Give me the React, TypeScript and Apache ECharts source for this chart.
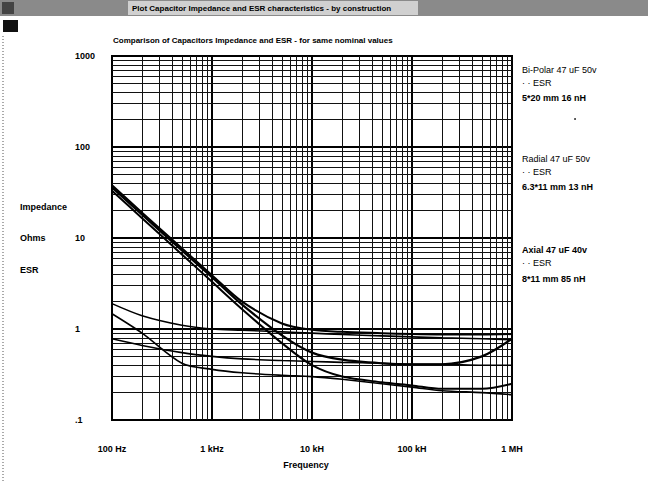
import React, { useEffect, useRef } from "react";
import * as echarts from "echarts";

// Frequencies (Hz) at which the curves were read
const freqs = [100, 200, 500, 1000, 2000, 5000, 10000, 20000, 50000, 100000, 200000, 500000, 1000000];

// Impedance and ESR (Ohms)
const zBipolar = [38, 19, 7.7, 3.9, 2.0, 1.15, 0.98, 0.93, 0.9, 0.88, 0.87, 0.87, 0.88];
const esrBipolar = [1.9, 1.4, 1.1, 1.0, 0.97, 0.93, 0.9, 0.87, 0.84, 0.82, 0.8, 0.78, 0.76];
const zRadial = [33, 16.5, 6.6, 3.3, 1.65, 0.7, 0.4, 0.3, 0.26, 0.24, 0.22, 0.22, 0.25];
const esrRadial = [1.47, 0.9, 0.42, 0.36, 0.33, 0.31, 0.3, 0.28, 0.25, 0.23, 0.21, 0.2, 0.19];
const zAxial = [36, 18, 7.3, 3.7, 1.85, 0.85, 0.55, 0.46, 0.42, 0.41, 0.41, 0.5, 0.78];
const esrAxial = [0.78, 0.66, 0.55, 0.5, 0.47, 0.45, 0.44, 0.43, 0.42, 0.41, 0.41, 0.4, 0.4];

// Tick labels
const xTickValues = [100, 1000, 10000, 100000, 1000000];
const xTickLabels = ["100 Hz", "1 kHz", "10 kH", "100 kH", "1 MH"];
const yTickValues = [0.1, 1, 10, 100, 1000];
const yTickLabels = [".1", "1", "10", "100", "1000"];

// Texts
const windowTitle = "Plot Capacitor Impedance and ESR characteristics - by construction";
const chartTitle = "Comparison of Capacitors Impedance and ESR - for same nominal values";
const legendLines = [
  { text: "Bi-Polar 47 uF 50v", bold: false },
  { text: "· · ESR", bold: false },
  { text: "5*20 mm 16 nH", bold: true },
  { text: "Radial 47 uF 50v", bold: false },
  { text: "· · ESR", bold: false },
  { text: "6.3*11 mm 13 nH", bold: true },
  { text: "Axial 47 uF 40v", bold: true },
  { text: "· · ESR", bold: false },
  { text: "8*11 mm 85 nH", bold: true },
];
const legendY = [70, 83, 98, 159, 172, 187, 250, 263, 279];

const minorMultipliers = [2, 3, 4, 5, 6, 7, 8, 9];
const xDecades = [100, 1000, 10000, 100000];
const yDecades = [0.1, 1, 10, 100];

const FONT = '"Liberation Sans", Arial, sans-serif';

function pick(values: number[], labels: string[], v: number) {
  for (let i = 0; i < values.length; i++) {
    if (Math.abs(v - values[i]) / values[i] < 1e-6) return labels[i];
  }
  return "";
}

export default function App() {
  const ref = useRef<HTMLDivElement>(null);
  useEffect(() => {
    document.body.style.margin = "0";
    const chart = echarts.init(ref.current!, null, { renderer: "svg" });

    const xMinor: any[] = [];
    xDecades.forEach((d) => minorMultipliers.forEach((m) => xMinor.push({ xAxis: d * m })));
    const yMinor: any[] = [];
    yDecades.forEach((d) => minorMultipliers.forEach((m) => yMinor.push({ yAxis: d * m })));

    const mk = (name: string, vals: number[], width: number) => ({
      name,
      type: "line",
      data: freqs.map((f, i) => [f, vals[i]]),
      showSymbol: false,
      smooth: 0.3,
      lineStyle: { color: "#000", width },
      z: 5,
      silent: true,
    });

    const txt = (text: string, x: number, y: number, bold: boolean, extra: any = {}) => ({
      type: "text",
      x,
      y,
      z: 10,
      style: {
        text,
        fill: "#000",
        fontFamily: FONT,
        fontSize: 9,
        fontWeight: bold ? "bold" : "normal",
        textVerticalAlign: "middle",
        ...extra,
      },
    });

    const graphics: any[] = [
      { type: "rect", shape: { x: 0, y: 0, width: 648, height: 16 }, style: { fill: "#8a8a8a" } },
      { type: "rect", shape: { x: 128, y: 1, width: 290, height: 14 }, style: { fill: "#d0d0d0" } },
      { type: "rect", shape: { x: 2, y: 2, width: 12, height: 12 }, style: { fill: "#444" } },
      { type: "rect", shape: { x: 3, y: 20, width: 15, height: 12 }, style: { fill: "#111" } },
      {
        type: "line",
        shape: { x1: 3, y1: 36, x2: 3, y2: 483 },
        style: { stroke: "#555", lineWidth: 1, lineDash: [1, 2] },
      },
      txt(windowTitle, 132, 8, true, { fontSize: 8 }),
      txt(chartTitle, 113, 40, true, { fontSize: 8 }),
      txt("Impedance", 20, 207, true),
      txt("Ohms", 20, 238, true),
      txt("ESR", 20, 270, true),
      txt("Frequency", 306, 465, true, { textAlign: "center" }),
      { type: "circle", shape: { cx: 575, cy: 119, r: 0.8 }, style: { fill: "#000" } },
    ];
    legendLines.forEach((l, i) => graphics.push(txt(l.text, 522, legendY[i], l.bold)));

    chart.setOption({
      animation: false,
      backgroundColor: "#fff",
      grid: {
        left: 112,
        right: 136,
        top: 56,
        bottom: 63,
        show: true,
        borderColor: "#000",
        borderWidth: 2,
        backgroundColor: "transparent",
      },
      xAxis: {
        type: "log",
        logBase: 10,
        min: 100,
        max: 1000000,
        axisLine: { show: true, lineStyle: { color: "#000", width: 2 } },
        axisTick: { show: false },
        splitLine: { show: true, lineStyle: { color: "#000", width: 2 } },
        axisLabel: {
          margin: 24,
          color: "#000",
          fontFamily: FONT,
          fontSize: 9,
          fontWeight: "bold",
          formatter: (v: number) => pick(xTickValues, xTickLabels, v),
        },
      },
      yAxis: {
        type: "log",
        logBase: 10,
        min: 0.1,
        max: 1000,
        axisLine: { show: true, lineStyle: { color: "#000", width: 2 } },
        axisTick: { show: false },
        splitLine: { show: true, lineStyle: { color: "#000", width: 2 } },
        axisLabel: {
          margin: 37,
          align: "left",
          color: "#000",
          fontFamily: FONT,
          fontSize: 9,
          fontWeight: "bold",
          formatter: (v: number) => pick(yTickValues, yTickLabels, v),
        },
      },
      graphic: graphics,
      series: [
        {
          name: "grid",
          type: "line",
          data: [],
          silent: true,
          markLine: {
            silent: true,
            symbol: ["none", "none"],
            label: { show: false },
            lineStyle: { color: "#111", width: 1, type: "solid" },
            data: [...xMinor, ...yMinor],
          },
        },
        mk("Bi-Polar Z", zBipolar, 2),
        mk("Bi-Polar ESR", esrBipolar, 1.6),
        mk("Radial Z", zRadial, 2),
        mk("Radial ESR", esrRadial, 1.6),
        mk("Axial Z", zAxial, 2.2),
        mk("Axial ESR", esrAxial, 1.6),
      ],
    });
    return () => chart.dispose();
  }, []);
  return (
    <div
      ref={ref}
      style={{ position: "fixed", left: 0, top: 0, width: 648, height: 483 }}
    />
  );
}
